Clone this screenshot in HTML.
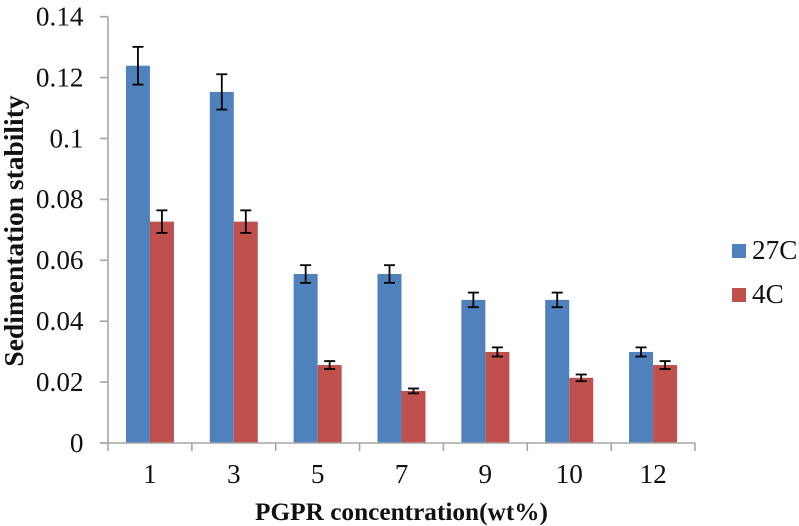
<!DOCTYPE html>
<html>
<head>
<meta charset="utf-8">
<style>
html,body{margin:0;padding:0;background:#fff;width:799px;height:526px;overflow:hidden}
svg{display:block;filter:blur(0.35px)}
text{font-family:"Liberation Serif",serif;fill:#111}
</style>
</head>
<body>
<svg id="chart" width="799" height="526" viewBox="0 0 799 526" xmlns="http://www.w3.org/2000/svg"></svg>
<script>
const categories = ['1', '3', '5', '7', '9', '10', '12'];
const seriesNames = ['27C', '4C'];
const values27C = [0.1239, 0.1153, 0.0555, 0.0555, 0.047, 0.047, 0.0299];
const values4C = [0.0727, 0.0727, 0.0256, 0.0171, 0.0299, 0.0214, 0.0256];
const errors27C = [0.0062, 0.0058, 0.0029, 0.0029, 0.0024, 0.0024, 0.0015];
const errors4C = [0.0037, 0.0037, 0.0013, 0.0008, 0.0015, 0.0011, 0.0013];
const yTicks = [0, 0.02, 0.04, 0.06, 0.08, 0.1, 0.12, 0.14];

const svg = document.getElementById('chart');
const NS = 'http://www.w3.org/2000/svg';
const left = 108, right = 695, top_ = 16.7, bottom = 443, yMax = 0.14;
const colors = ['#4f81bd', '#c0504d'];
const yScale = v => bottom - (v / yMax) * (bottom - top_);
const band = (right - left) / categories.length;
const xScale = i => left + band * i;
const barW = 24;

function make(tag, attrs, parent) {
  const el = document.createElementNS(NS, tag);
  for (const k in attrs) el.setAttribute(k, attrs[k]);
  (parent || svg).appendChild(el);
  return el;
}
function line(x1, y1, x2, y2, stroke, w, parent) {
  return make('line', {x1, y1, x2, y2, stroke, 'stroke-width': w}, parent);
}

[values27C, values4C].forEach((vals, s) => {
  vals.forEach((v, i) => {
    const x = xScale(i) + band / 2 - barW + s * barW;
    const bar = make('rect', {x, y: yScale(v), width: barW, height: bottom - yScale(v), fill: colors[s]});
    
    
  });
});

[values27C, values4C].forEach((vals, s) => {
  const errs = s === 0 ? errors27C : errors4C;
  vals.forEach((v, i) => {
    const cx = xScale(i) + band / 2 - barW / 2 + s * barW;
    const g = make('g', {});
    
    
    const hi = yScale(v + errs[i]), lo = yScale(v - errs[i]);
    line(cx, hi, cx, lo, '#000', 1.8, g);
    line(cx - 5.5, hi, cx + 5.5, hi, '#000', 1.8, g);
    line(cx - 5.5, lo, cx + 5.5, lo, '#000', 1.8, g);
  });
});

const yAxis = line(left, top_, left, bottom + 8, '#a6a6a6', 1.6);


const xAxis = line(left - 8, bottom, right, bottom, '#a6a6a6', 1.6);



yTicks.forEach(t => {
  const y = yScale(t);
  const tick = line(left - 8, y, left, y, '#a6a6a6', 1.6);
  
  
  const label = make('text', {x: 83.5, y: y + 8.8, 'text-anchor': 'end', 'font-size': 27.2});
  label.textContent = String(t);
  
  
});

categories.forEach((c, i) => {
  const tick = line(xScale(i + 1), bottom, xScale(i + 1), bottom + 8, '#a6a6a6', 1.6);
  
  
  const label = make('text', {x: xScale(i) + band / 2, y: 483, 'text-anchor': 'middle', 'font-size': 27.2});
  label.textContent = c;
  
  
});

seriesNames.forEach((n, s) => {
  const y = 244 + s * 44;
  const swatch = make('rect', {x: 732, y, width: 14, height: 14, fill: colors[s]});
  
  
  const label = make('text', {x: 752, y: y + 15, 'font-size': 27.2});
  label.textContent = n;
  
  
});

const xTitle = make('text', {x: 401.5, y: 520, 'text-anchor': 'middle', 'font-size': 25.3, 'font-weight': 'bold'});
xTitle.textContent = 'PGPR concentration(wt%)';



const yTitle = make('text', {x: 0, y: 0, 'text-anchor': 'middle', 'font-size': 27.5, 'font-weight': 'bold', transform: 'translate(23,231) rotate(-90)'});
yTitle.textContent = 'Sedimentation stability';


</script>
</body>
</html>
